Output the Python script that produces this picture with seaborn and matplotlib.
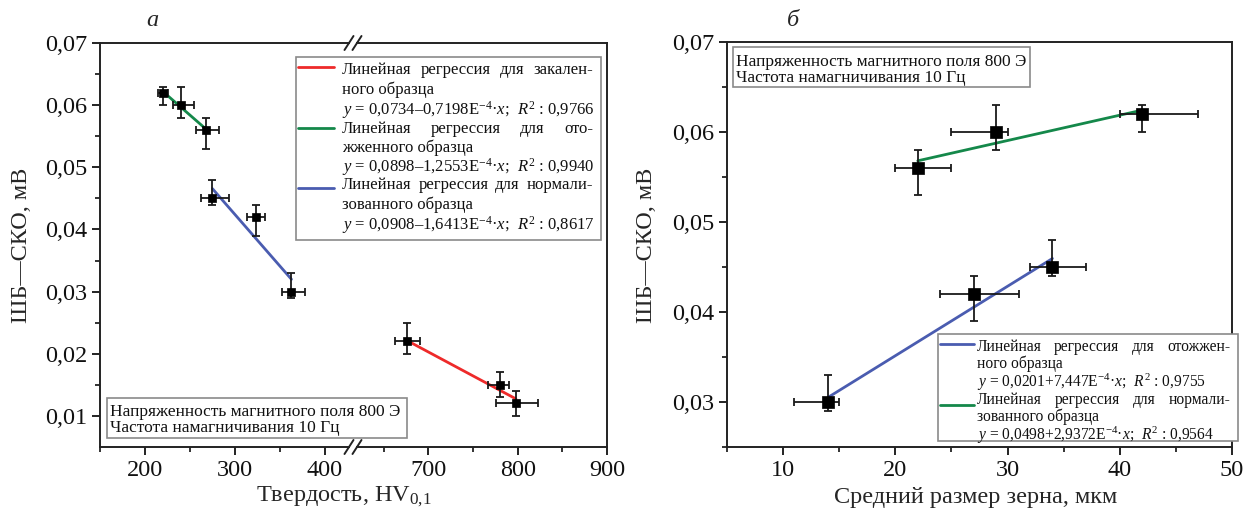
import numpy as np
import pandas as pd
import matplotlib
matplotlib.use("Agg")
import matplotlib.pyplot as plt
import seaborn as sns
from matplotlib.lines import Line2D
from matplotlib.patches import Rectangle
from matplotlib.ticker import FuncFormatter

# ---------------- data: panel а (hardness) ----------------
hv_annealed = [220, 240, 268]
sko_annealed = [0.062, 0.060, 0.056]
hv_annealed_lo = [215, 231, 257]
hv_annealed_hi = [226, 255, 282]
sko_annealed_lo = [0.060, 0.058, 0.053]
sko_annealed_hi = [0.063, 0.063, 0.058]

hv_normalized = [275, 324, 363]
sko_normalized = [0.045, 0.042, 0.030]
hv_normalized_lo = [262, 313, 353]
hv_normalized_hi = [293, 333, 378]
sko_normalized_lo = [0.044, 0.039, 0.029]
sko_normalized_hi = [0.048, 0.044, 0.033]

hv_quenched = [676, 780, 798]
sko_quenched = [0.022, 0.015, 0.012]
hv_quenched_lo = [663, 767, 776]
hv_quenched_hi = [690, 790, 823]
sko_quenched_lo = [0.020, 0.013, 0.010]
sko_quenched_hi = [0.025, 0.017, 0.014]

# ---------------- data: panel б (grain size) ----------------
grain_annealed = [14, 27, 34]
sko_g_annealed = [0.030, 0.042, 0.045]
grain_annealed_lo = [11, 24, 32]
grain_annealed_hi = [15, 31, 37]
sko_g_annealed_lo = [0.029, 0.039, 0.044]
sko_g_annealed_hi = [0.033, 0.044, 0.048]

grain_normalized = [22, 29, 42]
sko_g_normalized = [0.056, 0.060, 0.062]
grain_normalized_lo = [20, 25, 40]
grain_normalized_hi = [25, 30, 47]
sko_g_normalized_lo = [0.053, 0.058, 0.060]
sko_g_normalized_hi = [0.058, 0.063, 0.063]

yticks_a = [0.01, 0.02, 0.03, 0.04, 0.05, 0.06, 0.07]
yticks_b = [0.03, 0.04, 0.05, 0.06, 0.07]

legend_a = [
    ("#ee2a2a", ["Линейная регрессия для закален-", "ного образца",
                 "$y$ = 0,0734–0,7198E$^{-4}$·$x$;  $R^2$ : 0,9766"]),
    ("#14884a", ["Линейная регрессия для ото-", "жженного образца",
                 "$y$ = 0,0898–1,2553E$^{-4}$·$x$;  $R^2$ : 0,9940"]),
    ("#4a5cb0", ["Линейная регрессия для нормали-", "зованного образца",
                 "$y$ = 0,0908–1,6413E$^{-4}$·$x$;  $R^2$ : 0,8617"]),
]
legend_b = [
    ("#4a5cb0", ["Линейная регрессия для отожжен-", "ного образца",
                 "$y$ = 0,0201+7,447E$^{-4}$·$x$;  $R^2$ : 0,9755"]),
    ("#14884a", ["Линейная регрессия для нормали-", "зованного образца",
                 "$y$ = 0,0498+2,9372E$^{-4}$·$x$;  $R^2$ : 0,9564"]),
]
info_lines = ["Напряженность магнитного поля 800 Э", "Частота намагничивания 10 Гц"]

RED, GREEN, BLUE = "#ee2a2a", "#14884a", "#4a5cb0"

# ---------------- style ----------------
sns.set_theme(style="ticks")
plt.rcParams["font.family"] = ["Liberation Serif", "DejaVu Serif"]
plt.rcParams["mathtext.fontset"] = "custom"
plt.rcParams["mathtext.rm"] = "Liberation Serif"
plt.rcParams["mathtext.it"] = "Liberation Serif:italic"
plt.rcParams["mathtext.bf"] = "Liberation Serif:bold"
plt.rcParams["axes.linewidth"] = 1.4
plt.rcParams["axes.edgecolor"] = "#222222"

W, H = 1248, 515
fig = plt.figure(figsize=(W / 100, H / 100), dpi=100)
fig.patch.set_facecolor("white")


def fx(px):
    return px / W


def fy(py):
    return 1 - py / H


def box(x0, y0, x1, y1):
    return [fx(x0), fy(y1), fx(x1) - fx(x0), (y1 - y0) / H]


axL1 = fig.add_axes(box(100, 43, 349, 447))
axL2 = fig.add_axes(box(357, 43, 607, 447))
axR = fig.add_axes(box(727, 42, 1232, 447))

comma = FuncFormatter(lambda v, p: ("%.2f" % v).replace(".", ","))
intfmt = FuncFormatter(lambda v, p: "%d" % round(v))


def draw_group(ax, x, y, xlo, xhi, ylo, yhi, color, msize):
    df = pd.DataFrame({"x": x, "y": y})
    sns.regplot(data=df, x="x", y="y", ax=ax, scatter=False, ci=None,
                truncate=True, line_kws=dict(color=color, lw=2.0, zorder=2))
    x = np.asarray(x, float)
    y = np.asarray(y, float)
    ax.errorbar(x, y,
                xerr=[x - np.asarray(xlo), np.asarray(xhi) - x],
                yerr=[y - np.asarray(ylo), np.asarray(yhi) - y],
                fmt="none", ecolor="#1a1a1a", elinewidth=1.3, capsize=3.0,
                capthick=1.3, zorder=3)
    sns.scatterplot(data=df, x="x", y="y", ax=ax, marker="s", s=msize,
                    color="black", edgecolor="black", linewidth=0.5,
                    zorder=4, legend=False)


draw_group(axL1, hv_annealed, sko_annealed, hv_annealed_lo, hv_annealed_hi,
           sko_annealed_lo, sko_annealed_hi, GREEN, 40)
draw_group(axL1, hv_normalized, sko_normalized, hv_normalized_lo, hv_normalized_hi,
           sko_normalized_lo, sko_normalized_hi, BLUE, 40)
draw_group(axL2, hv_quenched, sko_quenched, hv_quenched_lo, hv_quenched_hi,
           sko_quenched_lo, sko_quenched_hi, RED, 40)
draw_group(axR, grain_annealed, sko_g_annealed, grain_annealed_lo, grain_annealed_hi,
           sko_g_annealed_lo, sko_g_annealed_hi, BLUE, 75)
draw_group(axR, grain_normalized, sko_g_normalized, grain_normalized_lo,
           grain_normalized_hi, sko_g_normalized_lo, sko_g_normalized_hi, GREEN, 75)

for ax in (axL1, axL2, axR):
    ax.set_xlabel("")
    ax.set_ylabel("")
    ax.tick_params(which="major", direction="out", length=6, width=1.3,
                   labelsize=17.5, colors="#111111", pad=3)
    ax.tick_params(which="minor", direction="out", length=3.5, width=1.2,
                   colors="#111111")
    ax.tick_params(top=False, right=False, which="both")
    for s in ax.spines.values():
        s.set_visible(True)
        s.set_linewidth(1.4)

axL1.set_xlim(150, 427)
axL2.set_xlim(620, 900)
for ax in (axL1, axL2):
    ax.set_ylim(0.005, 0.07)
axL1.set_xticks([200, 300, 400])
axL1.set_xticks([150, 250, 350], minor=True)
axL2.set_xticks([700, 800, 900])
axL2.set_xticks([650, 750, 850], minor=True)
axL1.set_yticks(yticks_a)
axL1.set_yticks([v + 0.005 for v in yticks_a[:-1]], minor=True)
axL1.yaxis.set_major_formatter(comma)
axL1.xaxis.set_major_formatter(intfmt)
axL2.xaxis.set_major_formatter(intfmt)
axL2.set_yticks([])
axL2.set_yticks([], minor=True)
axL1.spines["right"].set_visible(False)
axL2.spines["left"].set_visible(False)

axR.set_xlim(5, 50)
axR.set_ylim(0.025, 0.07)
axR.set_xticks([10, 20, 30, 40, 50])
axR.set_xticks([5, 15, 25, 35, 45], minor=True)
axR.set_yticks(yticks_b)
axR.set_yticks([0.025, 0.035, 0.045, 0.055, 0.065], minor=True)
axR.yaxis.set_major_formatter(comma)
axR.xaxis.set_major_formatter(intfmt)

# axis break marks
for yy in (43, 447):
    for xx in (349, 357):
        fig.add_artist(Line2D([fx(xx - 4.5), fx(xx + 4.5)], [fy(yy + 7), fy(yy - 7)],
                              color="#222222", lw=1.4))

# axis labels
fig.text(fx(22), fy(245), "ШБ—СКО, мВ", rotation=90, ha="center", va="center",
         fontsize=17.5)
fig.text(fx(646), fy(245), "ШБ—СКО, мВ", rotation=90, ha="center", va="center",
         fontsize=17.5)
fig.text(fx(344), fy(497), "Твердость, HV$_{\\mathrm{0{,}1}}$", ha="center",
         va="center", fontsize=17.5)
fig.text(fx(976), fy(497), "Средний размер зерна, мкм", ha="center",
         va="center", fontsize=17.5)
fig.text(fx(152), fy(20), "а", ha="center", va="center", fontsize=17.5, style="italic")
fig.text(fx(793), fy(20), "б", ha="center", va="center", fontsize=17.5, style="italic")

renderer = fig.canvas.get_renderer()


def put_line(x0, yc, s, right=None, fs=12):
    kw = dict(ha="left", va="center_baseline", fontsize=fs, color="#111111",
              zorder=8)
    if right is None:
        fig.text(fx(x0), fy(yc), s, **kw)
        return
    words = s.split(" ")
    ts = [fig.text(0, 0, w, **kw) for w in words]
    ws = [t.get_window_extent(renderer).width for t in ts]
    gap = (right - x0 - sum(ws)) / (len(words) - 1)
    x = x0
    for t, w in zip(ts, ws):
        t.set_position((fx(x), fy(yc)))
        x += w + gap


def frame(x0, y0, x1, y1):
    fig.add_artist(Rectangle((fx(x0), fy(y1)), fx(x1) - fx(x0), (y1 - y0) / H,
                             facecolor="white", edgecolor="#8a8a8a", lw=1.2,
                             zorder=5))


# legend panel а
frame(296, 57, 601, 240)
ys_a = [68, 88, 107, 127, 146, 164, 183, 203, 222]
handle_y_a = [67, 128, 188]
for i, (col, lines) in enumerate(legend_a):
    fig.add_artist(Line2D([fx(298), fx(334)], [fy(handle_y_a[i])] * 2, color=col,
                          lw=2.0, zorder=6))
    for j, s in enumerate(lines):
        put_line(342, ys_a[3 * i + j], s, right=593 if j == 0 else None, fs=12)

# info box panel а
frame(107, 398, 407, 438)
put_line(110, 410, info_lines[0], fs=12.5)
put_line(110, 426, info_lines[1], fs=12.5)

# info box panel б
frame(733, 47, 1030, 87)
put_line(736, 60, info_lines[0], fs=12.5)
put_line(736, 76, info_lines[1], fs=12.5)

# legend panel б
frame(938, 334, 1238, 441)
ys_b = [345, 362, 379, 398, 415, 432]
handle_y_b = [344, 405]
for i, (col, lines) in enumerate(legend_b):
    fig.add_artist(Line2D([fx(940), fx(974)], [fy(handle_y_b[i])] * 2, color=col,
                          lw=2.0, zorder=6))
    for j, s in enumerate(lines):
        put_line(977, ys_b[3 * i + j], s, right=1230 if j == 0 else None, fs=11.2)

fig.savefig("out.png", dpi=100, facecolor="white")
